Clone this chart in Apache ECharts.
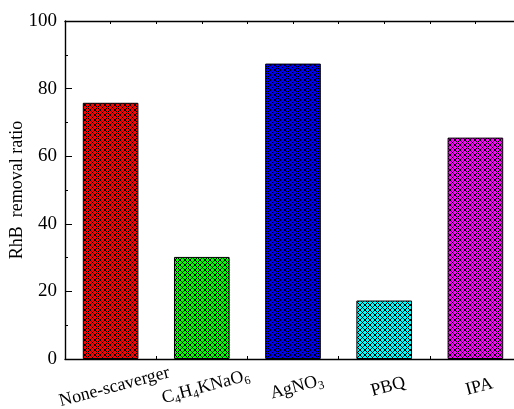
<!DOCTYPE html>
<html>
<head>
<meta charset="utf-8">
<script src="https://cdn.jsdelivr.net/npm/echarts@6/dist/echarts.min.js"></script>
<style>html,body{margin:0;padding:0;background:#fff}#c{width:514px;height:409px}</style>
</head>
<body>
<div id="c"></div>
<script>
const categories = ['{n|None-scaverger}', '{n|C}{s|4}{n|H}{s|4}{n|KNaO}{s|6}', '{n|AgNO}{s|3}', '{n|PBQ}', '{n|IPA}'];
const removalRatio = [75.8, 30.2, 87.4, 17.3, 65.5];
const barColors = ['#ff0000', '#00ff00', '#0000ff', '#00ffff', '#ff00ff'];
const yTicks = { min: 0, max: 100, interval: 20 };

function hatch(color) {
  const P = 5;
  const c = document.createElement('canvas');
  c.width = P; c.height = P;
  const g = c.getContext('2d');
  g.fillStyle = color; g.fillRect(0, 0, P, P);
  g.strokeStyle = '#000'; g.lineWidth = 1.0;
  for (let k = -1; k <= 2; k++) {
    const o = k * P;
    g.beginPath(); g.moveTo(o - 1, -1); g.lineTo(o + P + 1, P + 1); g.stroke();
    g.beginPath(); g.moveTo(o + 1, -1); g.lineTo(o - P - 1, P + 1); g.stroke();
  }
  return { image: c, repeat: 'repeat' };
}

const font = 'Liberation Serif';
const chart = echarts.init(document.getElementById('c'));
chart.setOption({
  animation: false,
  grid: { left: 65, width: 456, top: 21, height: 338, containLabel: false, outerBoundsMode: 'none' },
  xAxis: [
    {
      type: 'category', data: categories, position: 'bottom',
      axisLine: { lineStyle: { color: '#000', width: 1.4 } },
      axisTick: { show: false },
      axisLabel: {
        rotate: 15, align: 'center', verticalAlign: 'middle', margin: 29,
        fontFamily: font, fontSize: 18, color: '#000', interval: 0,
        padding: [0, 0, 0, 8],
        rich: {
          n: { fontFamily: font, fontSize: 18, color: '#000', lineHeight: 22 },
          s: { fontFamily: font, fontSize: 12, color: '#000', lineHeight: 11, verticalAlign: 'bottom' }
        }
      }
    },
    {
      type: 'value', position: 'top', min: 0, max: 10, interval: 1,
      axisLine: { show: true, onZero: false, lineStyle: { color: '#000', width: 1.4 } },
      axisTick: { show: true, inside: true, length: 3, lineStyle: { color: '#000' } },
      axisLabel: { show: false }, splitLine: { show: false }
    },
    {
      type: 'value', position: 'bottom', min: 0, max: 10, interval: 1,
      axisLine: { show: false },
      axisTick: { show: true, inside: true, length: 3, lineStyle: { color: '#000' } },
      axisLabel: { show: false }, splitLine: { show: false }
    }
  ],
  yAxis: {
    type: 'value', min: yTicks.min, max: yTicks.max, interval: yTicks.interval,
    name: 'RhB  removal ratio', nameLocation: 'middle', nameGap: 39, nameMoveOverlap: false,
    nameTextStyle: { fontFamily: font, fontSize: 18, color: '#000' },
    axisLine: { show: true, lineStyle: { color: '#000', width: 1.4 } },
    axisTick: { show: true, inside: true, length: 7, lineStyle: { color: '#000' } },
    minorTick: { show: true, splitNumber: 2, length: 3, lineStyle: { color: '#000' } },
    axisLabel: { fontFamily: font, fontSize: 19, color: '#000', margin: 8 },
    splitLine: { show: false }
  },
  series: [{
    type: 'bar', xAxisIndex: 0, barWidth: '61%',
    data: removalRatio.map((v, i) => ({
      value: v,
      itemStyle: { color: hatch(barColors[i]), borderColor: '#000', borderWidth: 1 }
    }))
  }]
});
</script>
</body>
</html>
